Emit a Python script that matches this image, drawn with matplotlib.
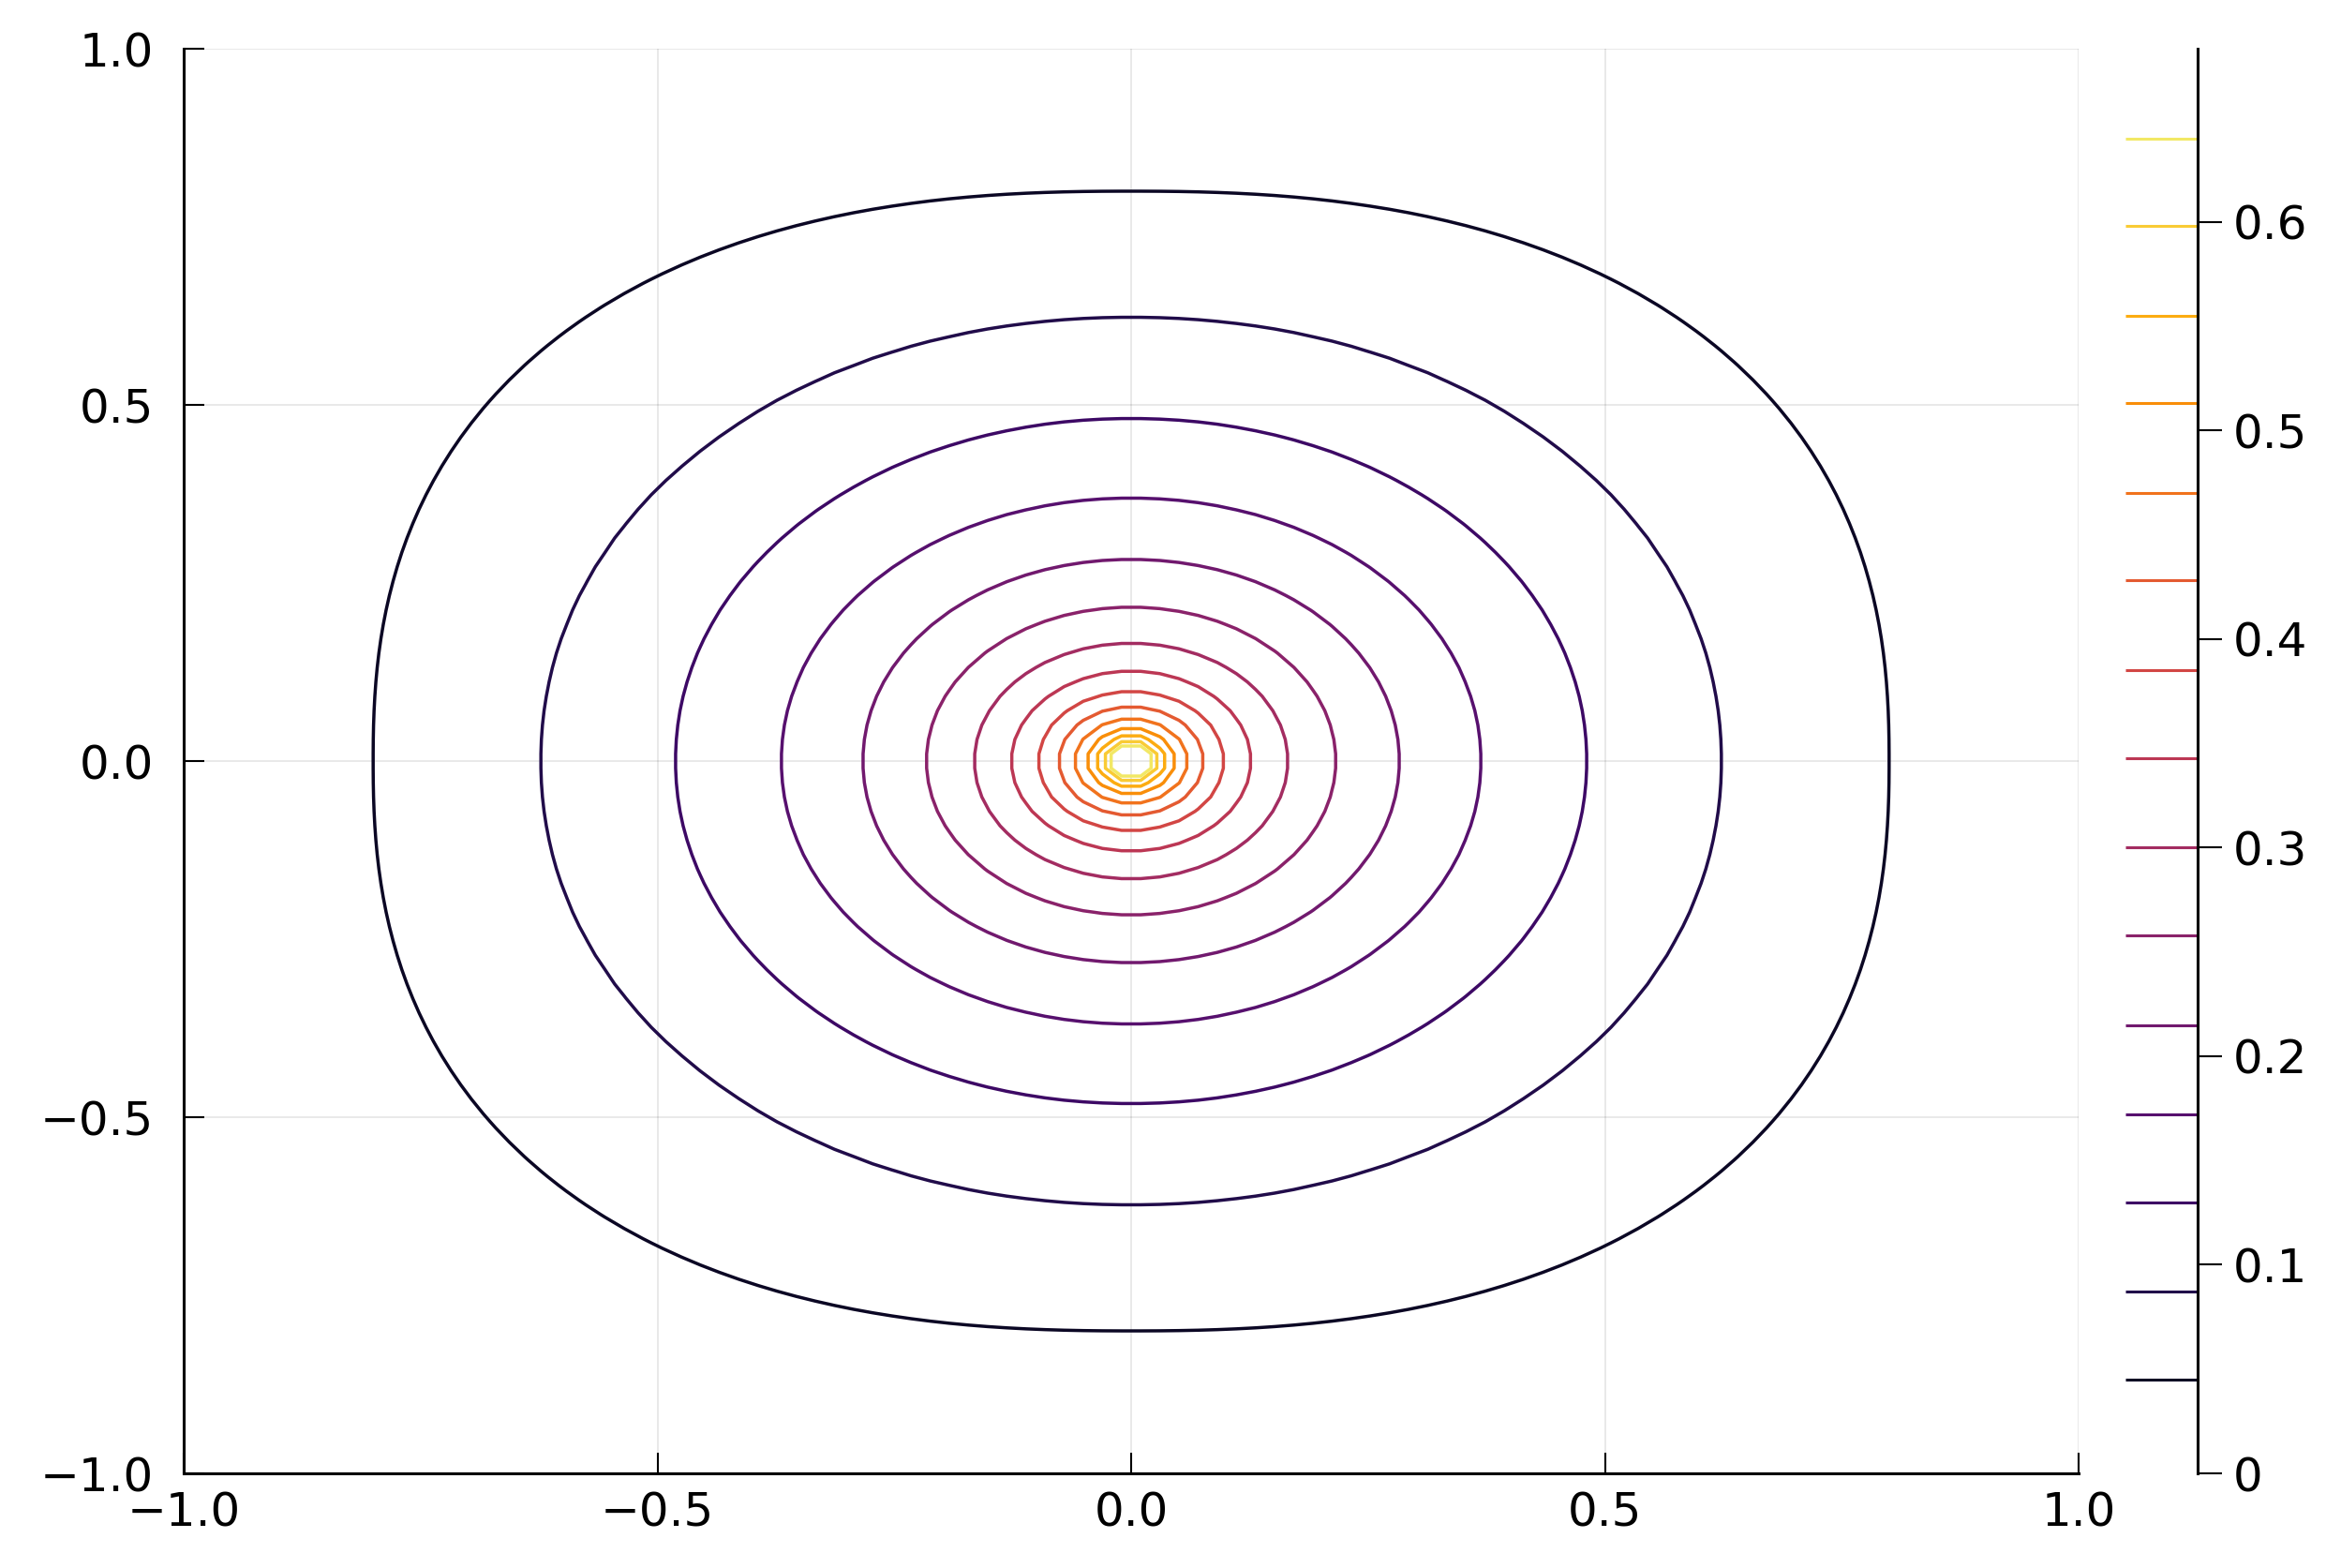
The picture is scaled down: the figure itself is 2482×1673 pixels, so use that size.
import numpy as np
import matplotlib
matplotlib.use("Agg")
import matplotlib.pyplot as plt
from matplotlib.colors import Normalize

# ---- data ----
levels = [0.045, 0.087, 0.130, 0.172, 0.215, 0.258, 0.300, 0.343,
          0.385, 0.428, 0.470, 0.513, 0.555, 0.598, 0.640]
# half-width of each contour along the axes (outer -> inner)
axis_radius = [0.800, 0.623, 0.481, 0.369, 0.283, 0.216, 0.165, 0.126,
               0.097, 0.076, 0.059, 0.045, 0.036, 0.028, 0.022]
# coordinate where each contour crosses the diagonal x = y
diag_coord = [0.600, 0.445, 0.342, 0.262, 0.201, 0.153, 0.117, 0.089,
              0.069, 0.054, 0.042, 0.032, 0.0255, 0.020, 0.0157]
z_max = 0.683

x_ticks = [-1.0, -0.5, 0.0, 0.5, 1.0]
x_tick_labels = ["\u22121.0", "\u22120.5", "0.0", "0.5", "1.0"]
y_ticks = [-1.0, -0.5, 0.0, 0.5, 1.0]
y_tick_labels = ["\u22121.0", "\u22120.5", "0.0", "0.5", "1.0"]
cbar_ticks = [0.0, 0.1, 0.2, 0.3, 0.4, 0.5, 0.6]
cbar_tick_labels = ["0", "0.1", "0.2", "0.3", "0.4", "0.5", "0.6"]

# ---- build the field on a grid from the read contours ----
n = 100
g = np.linspace(-1, 1, n)
X, Y = np.meshgrid(g, g)
a = np.array(axis_radius)[:, None, None]
d = np.array(diag_coord)[:, None, None]
p = np.log(0.5) / np.log(d / a)
with np.errstate(divide="ignore"):
    lt = np.log(((np.abs(X) / a) ** p + (np.abs(Y) / a) ** p) ** (1.0 / p))
L = np.array(levels)
nl = len(levels)
k = (lt < 0).sum(axis=0)
# pair of neighbouring contours used for each point (extrapolate at ends)
i0 = np.clip(k - 1, 0, nl - 2)
i1 = i0 + 1
lt0 = np.take_along_axis(lt, i0[None], 0)[0]
lt1 = np.take_along_axis(lt, i1[None], 0)[0]
f = lt0 / (lt0 - lt1)
Z = L[i0] + f * (L[i1] - L[i0])

# ---- figure ----
W, H = 2482, 1673
fig = plt.figure(figsize=(W / 100, H / 100), dpi=100)
plt.rcParams["font.family"] = ["DejaVu Sans"]

ax = fig.add_axes([196 / W, (H - 1572) / H, (2218 - 196) / W, (1572 - 52) / H])
cmap = plt.get_cmap("inferno")
norm = Normalize(0, z_max)
ax.contour(X, Y, Z, levels=levels, cmap=cmap, norm=norm, linewidths=2.5)

ax.set_xlim(-1, 1)
ax.set_ylim(-1, 1)
ax.set_xticks(x_ticks)
ax.set_xticklabels(x_tick_labels)
ax.set_yticks(y_ticks)
ax.set_yticklabels(y_tick_labels)
ax.grid(True, color="black", alpha=0.09, linewidth=1.4)
ax.set_axisbelow(True)
for s in ["top", "right"]:
    ax.spines[s].set_visible(False)
for s in ["left", "bottom"]:
    ax.spines[s].set_linewidth(2.2)
ax.tick_params(axis="both", direction="in", length=16, width=1.5,
               labelsize=36, top=False, right=False)
ax.tick_params(axis="x", pad=13)
ax.tick_params(axis="y", pad=23)

# ---- colorbar with level lines ----
cax = fig.add_axes([2268 / W, (H - 1572) / H, (2345 - 2268) / W, (1572 - 52) / H])
cax.hlines(levels, 0, 1, colors=cmap(norm(np.array(levels))), linewidth=2.2)
cax.set_xlim(0, 1)
cax.set_ylim(0, z_max)
for s in ["top", "left", "bottom"]:
    cax.spines[s].set_visible(False)
cax.spines["right"].set_linewidth(2.2)
cax.set_xticks([])
cax.yaxis.tick_right()
cax.set_yticks(cbar_ticks)
cax.set_yticklabels(cbar_tick_labels)
cax.tick_params(axis="y", direction="out", length=19, width=1.5,
                labelsize=36, pad=8, left=False, right=True)

fig.savefig("out.png", dpi=100)
